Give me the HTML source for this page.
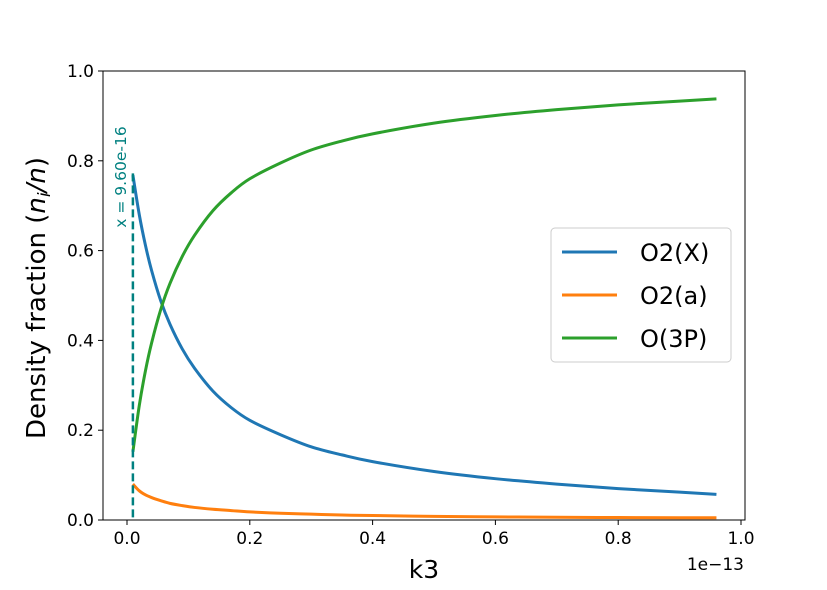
<!DOCTYPE html>
<html><head><meta charset="utf-8"><style>body{margin:0;background:#fff}svg text{font-family:"DejaVu Sans","Liberation Sans",sans-serif}</style></head>
<body>
<svg id="c" width="827" height="585" xmlns="http://www.w3.org/2000/svg">
<rect x="103" y="71" width="642" height="449" fill="#fff"/>
<g id="g"></g>
<rect x="103" y="71" width="642" height="449" fill="none" stroke="#000" stroke-width="1"/>
<text x="45" y="298" font-size="26" text-anchor="middle" transform="rotate(-90 45 298)">Density fraction  (<tspan font-style="italic">n</tspan><tspan font-style="italic" font-size="17" dy="5">i</tspan><tspan font-style="italic" dy="-5">/n</tspan>)</text>
<text x="424" y="578" font-size="25" text-anchor="middle">k3</text>
<text x="744" y="570" font-size="17" text-anchor="end">1e−13</text>
<text x="121" y="177" font-size="15.5" fill="#008080" text-anchor="middle" dominant-baseline="central" transform="rotate(-90 121 177)">x = 9.60e-16</text>
<g>
<rect x="551" y="228" width="180" height="134" rx="4" fill="#fff" fill-opacity="0.8" stroke="#ccc"/>
<line x1="562" y1="252" x2="617" y2="252" stroke="#1f77b4" stroke-width="3"/><text x="640" y="261" font-size="24">O2(X)</text>
<line x1="562" y1="295" x2="617" y2="295" stroke="#ff7f0e" stroke-width="3"/><text x="640" y="304" font-size="24">O2(a)</text>
<line x1="562" y1="338" x2="617" y2="338" stroke="#2ca02c" stroke-width="3"/><text x="640" y="347" font-size="24">O(3P)</text>
</g>
</svg>
<script>
const xs=[0.0096,0.02,0.03,0.04,0.055,0.07,0.09,0.11,0.14,0.17,0.2,0.25,0.3,0.35,0.4,0.5,0.6,0.7,0.8,0.9,0.96];
const o2x=[0.768,0.68,0.612,0.556,0.488,0.436,0.381,0.338,0.287,0.25,0.222,0.19,0.163,0.145,0.13,0.108,0.092,0.08,0.07,0.062,0.057];
const o3p=[0.152,0.255,0.332,0.394,0.469,0.527,0.587,0.634,0.689,0.729,0.76,0.795,0.824,0.844,0.86,0.884,0.901,0.914,0.9245,0.933,0.938];
const o2a=[0.08,0.065,0.056,0.05,0.043,0.037,0.032,0.028,0.024,0.021,0.018,0.015,0.013,0.011,0.01,0.008,0.007,0.006,0.0055,0.005,0.005];
const xTicks=[0,0.2,0.4,0.6,0.8,1.0];
const yTicks=[0,0.2,0.4,0.6,0.8,1.0];
const vlineX=0.0096, vlineTop=0.772;
const X=v=>127+v*614, Y=v=>520-v*449;
const NS="http://www.w3.org/2000/svg", g=document.getElementById('g');
function mk(t,a){const e=document.createElementNS(NS,t);for(const k in a)e.setAttribute(k,a[k]);g.appendChild(e);return e;}
xTicks.forEach(t=>{mk('line',{x1:X(t),x2:X(t),y1:520,y2:525,stroke:'#000'});const e=mk('text',{x:X(t),y:544,'font-size':17,'text-anchor':'middle'});e.textContent=t.toFixed(1);

});
yTicks.forEach(t=>{mk('line',{x1:98,x2:103,y1:Y(t),y2:Y(t),stroke:'#000'});const e=mk('text',{x:94,y:Y(t)+6,'font-size':17,'text-anchor':'end'});e.textContent=t.toFixed(1);

});
function smooth(pts){let p='M'+pts[0][0]+','+pts[0][1];for(let i=0;i<pts.length-1;i++){const p0=pts[i-1]||pts[i],p1=pts[i],p2=pts[i+1],p3=pts[i+2]||p2;
p+='C'+(p1[0]+(p2[0]-p0[0])/6)+','+(p1[1]+(p2[1]-p0[1])/6)+' '+(p2[0]-(p3[0]-p1[0])/6)+','+(p2[1]-(p3[1]-p1[1])/6)+' '+p2[0]+','+p2[1];}return p;}
[[o2x,'#1f77b4','line-o2x'],[o2a,'#ff7f0e','line-o2a'],[o3p,'#2ca02c','line-o3p']].forEach(([d,c,n])=>{
 const pts=xs.map((x,i)=>[X(x),Y(d[i])]);
 const e=mk('path',{d:smooth(pts),fill:'none',stroke:c,'stroke-width':3,'stroke-linejoin':'round'});
 
 
});
const v=mk('line',{x1:X(vlineX),x2:X(vlineX),y1:Y(vlineTop),y2:520,stroke:'#008080','stroke-width':2.5,'stroke-dasharray':'8,4'});


</script>
</body></html>
